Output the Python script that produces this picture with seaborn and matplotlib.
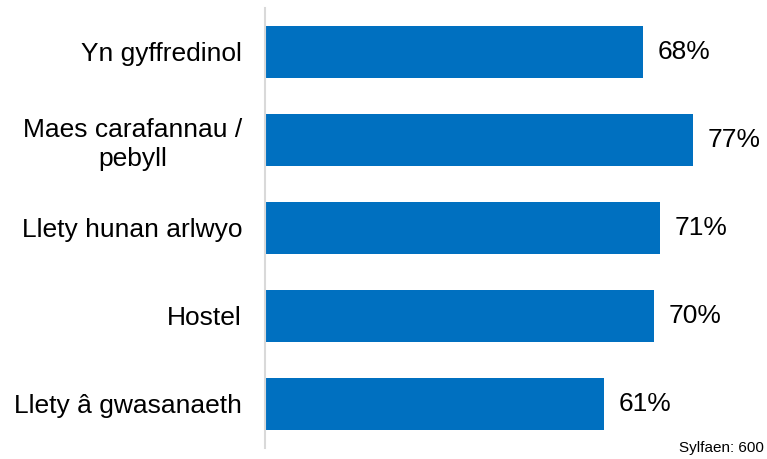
import pandas as pd
import matplotlib.pyplot as plt
import seaborn as sns

categories = ['Yn gyffredinol', 'Maes carafannau /\npebyll', 'Llety hunan arlwyo',
              'Hostel', 'Llety â gwasanaeth']
values = [68, 77, 71, 70, 61]
base_note = 'Sylfaen: 600'

sns.set_style('white')
plt.rcParams['font.family'] = ['Liberation Sans', 'DejaVu Sans']

df = pd.DataFrame({'cat': categories, 'val': values})

fig = plt.figure(figsize=(7.67, 4.59), dpi=100)
ax = fig.add_axes([0.3455, 0.024, 0.652, 0.9586])
sns.barplot(data=df, x='val', y='cat', orient='h', color='#0070C0',
            saturation=1, width=0.58, linewidth=0, ax=ax)

ax.set_xlim(0, 90)
ax.set_ylim(4.5, -0.5)
ax.set_xlabel('')
ax.set_ylabel('')
ax.set_xticks([])
for side in ['top', 'right', 'bottom']:
    ax.spines[side].set_visible(False)
ax.spines['left'].set_color('#d9d9d9')
ax.spines['left'].set_linewidth(1.5)
ax.tick_params(axis='y', length=0, pad=16.5, labelsize=19, labelcolor='black')
for lbl in ax.get_yticklabels():
    lbl.set_multialignment('center')
    lbl.set_linespacing(1.25)

for i, v in enumerate(values):
    ax.text(v + 2.7, i, f'{v}%', va='center', ha='left', fontsize=19, color='black')

fig.text(0.996, 0.008, base_note, ha='right', va='bottom', fontsize=11, color='black')

plt.savefig('out.png', dpi=100)
plt.close()
